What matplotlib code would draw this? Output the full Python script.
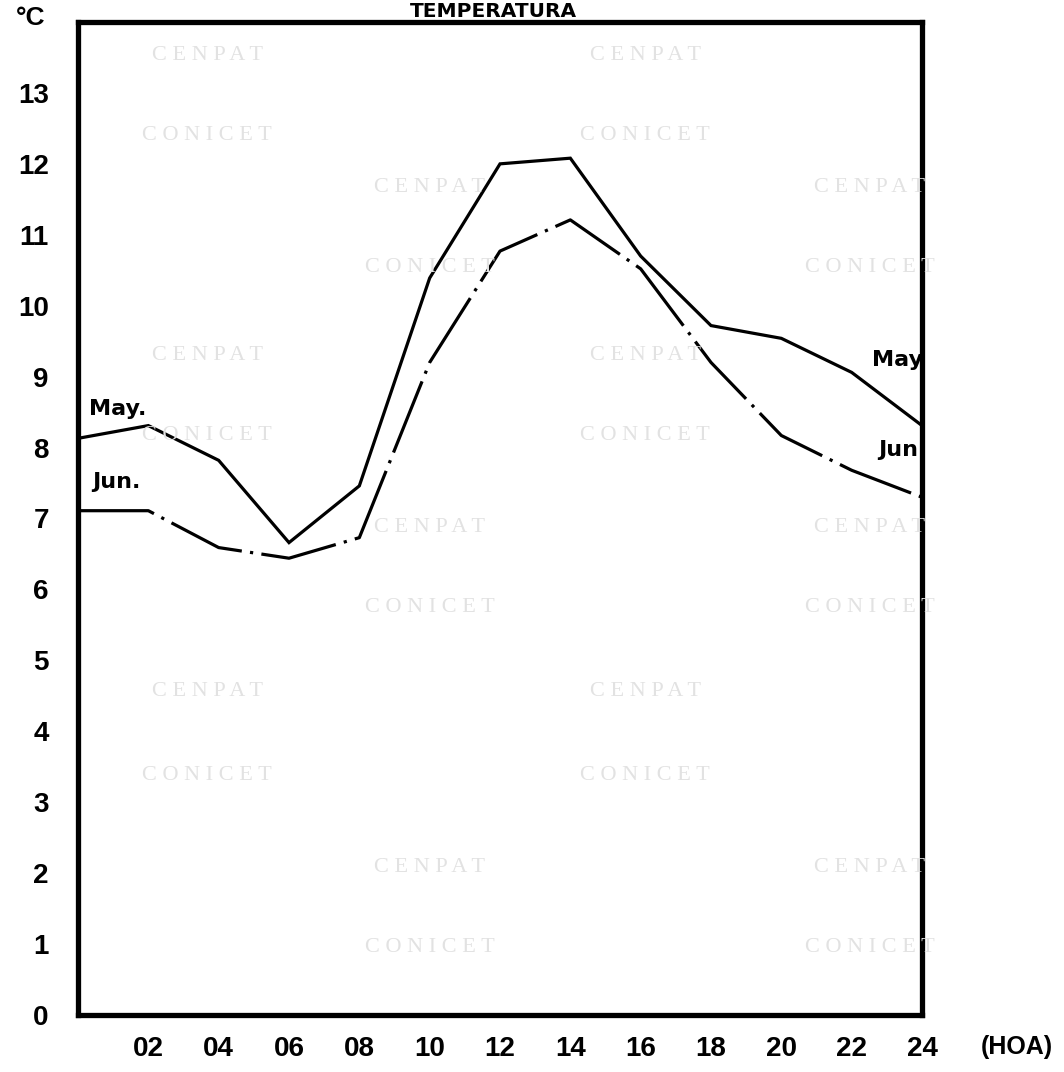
import matplotlib
matplotlib.use("Agg")
import matplotlib.pyplot as plt

# ---- data ----
hours = [0, 2, 4, 6, 8, 10, 12, 14, 16, 18, 20, 22, 24]
may_temp = [8.13, 8.31, 7.82, 6.66, 7.46, 10.39, 12.0, 12.08, 10.7, 9.72, 9.54, 9.06, 8.31]
jun_temp = [7.11, 7.11, 6.59, 6.44, 6.73, 9.2, 10.77, 11.21, 10.52, 9.2, 8.17, 7.68, 7.3]
x_ticks = [2, 4, 6, 8, 10, 12, 14, 16, 18, 20, 22, 24]
x_tick_labels = ["02", "04", "06", "08", "10", "12", "14", "16", "18", "20", "22", "24"]
y_ticks = list(range(0, 14))
y_tick_labels = [str(v) for v in y_ticks]

W, H = 1064, 1072
fig = plt.figure(figsize=(W / 100, H / 100), dpi=100)

# faint scan watermarks (background), only the fully visible ones
wm_color = "#e2e2e2"
wm_font = ["Liberation Serif", "DejaVu Serif"]
colsA = [207, 645]
rowsA = [(55, 135), (355, 435), (692, 775)]
colsB = [430, 870]
rowsB = [(188, 268), (528, 608), (868, 948)]
for cols, rows in ((colsA, rowsA), (colsB, rowsB)):
    for cx in cols:
        for r1, r2 in rows:
            fig.text(cx / W, 1 - r1 / H, "C E N P A T", color=wm_color, fontsize=16,
                     family=wm_font, ha="center", va="center", zorder=0)
            fig.text(cx / W, 1 - r2 / H, "C O N I C E T", color=wm_color, fontsize=16,
                     family=wm_font, ha="center", va="center", zorder=0)

ax = fig.add_axes([78 / W, 57 / H, (922 - 78) / W, (1015 - 22) / H])
ax.patch.set_alpha(0)

ax.plot(hours, may_temp, color="black", lw=2.3, solid_joinstyle="miter")
ax.plot(hours, jun_temp, color="black", lw=2.3, linestyle=(0, (24, 2.6, 1.0, 2.6)))

ax.set_xlim(0, 24)
ax.set_ylim(0, 14)

for s in ax.spines.values():
    s.set_linewidth(3.8)
    s.set_color("black")

tick_font = ["Liberation Sans", "DejaVu Sans"]
ax.set_xticks(x_ticks)
ax.set_xticklabels(x_tick_labels, family=tick_font, fontsize=20, fontweight="bold")
ax.set_yticks(y_ticks)
ax.set_yticklabels(y_tick_labels, family=tick_font, fontsize=20, fontweight="bold")
ax.tick_params(axis="both", length=0)
ax.tick_params(axis="x", pad=15)
ax.tick_params(axis="y", pad=21)

lab_font = ["DejaVu Sans"]
ax.text(0.3, 8.55, "May.", fontsize=16, fontweight="bold", family=lab_font, ha="left", va="center")
ax.text(0.4, 7.52, "Jun.", fontsize=16, fontweight="bold", family=lab_font, ha="left", va="center")
ax.text(22.58, 9.24, "May", fontsize=16, fontweight="bold", family=lab_font, ha="left", va="center",
        clip_on=True)
ax.text(22.75, 7.97, "Jun", fontsize=16, fontweight="bold", family=lab_font, ha="left", va="center",
        clip_on=True)

fig.text(45 / W, 1 - 18 / H, "°C", fontsize=19, fontweight="bold", family=tick_font,
         ha="right", va="center")
fig.text(493 / W, 1 - 17 / H, "TEMPERATURA", fontsize=14.5, fontweight="bold",
         family=["DejaVu Sans"], ha="center", va="baseline")
fig.text(1017 / W, 1 - 1047 / H, "(HOA)", fontsize=18, fontweight="bold",
         family=tick_font, ha="center", va="center")

fig.savefig("out.png", dpi=100)
